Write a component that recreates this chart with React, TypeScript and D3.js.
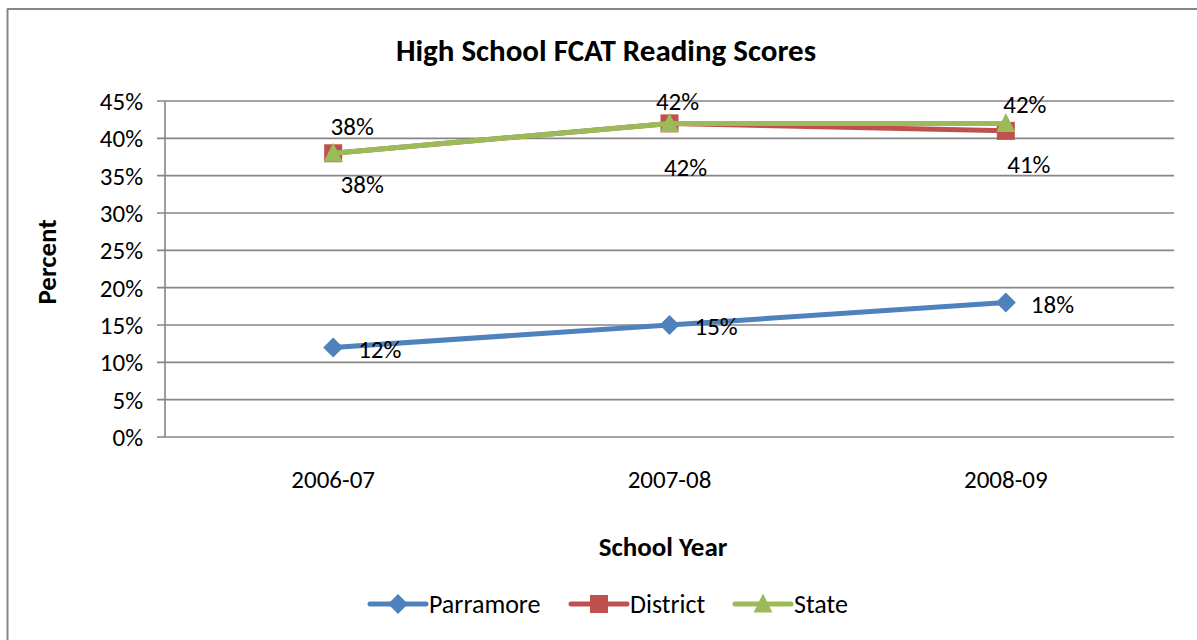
import React from "react";
import * as d3 from "d3";

const categories = ["2006-07", "2007-08", "2008-09"];
const parramore = [12, 15, 18];
const district = [38, 42, 41];
const state = [38, 42, 42];
const yTicks = [0, 5, 10, 15, 20, 25, 30, 35, 40, 45];
const seriesNames = ["Parramore", "District", "State"];

const W = 1197;
const H = 640;
const FONT = "Carlito, Calibri, Lato, 'Liberation Sans', sans-serif";
const GRID = "#868686";
const COLORS = ["#4F81BD", "#C0504D", "#9BBB59"];

const plot = { left: 165, right: 1174, top: 101, bottom: 437 };

// per-point label placement (offsets from the point, in px)
const LABEL_DX = [
  [25, 25, 25],
  [29, 16, 23],
  [19, 8, 19],
];
const LABEL_DY = [
  [2, 1, 1],
  [31, 44, 33],
  [-27, -22, -19],
];

function Marker({ kind, x, y, color }: { kind: string; x: number; y: number; color: string }) {
  if (kind === "diamond") {
    const r = 10;
    return <path d={`M${x},${y - r}L${x + r},${y}L${x},${y + r}L${x - r},${y}Z`} fill={color} />;
  }
  if (kind === "square") {
    const s = 18;
    return <rect x={x - s / 2} y={y - s / 2} width={s} height={s} fill={color} />;
  }
  const s = 19;
  return <path d={`M${x},${y - s * 0.55}L${x + s / 2},${y + s * 0.45}L${x - s / 2},${y + s * 0.45}Z`} fill={color} />;
}

export default function App() {
  const x = d3.scaleBand<string>().domain(categories).range([plot.left, plot.right]);
  const y = d3.scaleLinear().domain([0, 45]).range([plot.bottom, plot.top]);
  const cx = (c: string) => (x(c) as number) + x.bandwidth() / 2;
  const line = d3
    .line<number>()
    .x((_, i) => cx(categories[i]))
    .y((d) => y(d));

  const series = [
    { name: seriesNames[0], values: parramore, color: COLORS[0], marker: "diamond", anchor: "start" },
    { name: seriesNames[1], values: district, color: COLORS[1], marker: "square", anchor: "middle" },
    { name: seriesNames[2], values: state, color: COLORS[2], marker: "triangle", anchor: "middle" },
  ];

  const legendX = [370, 571, 735];
  const fs = 25;

  return (
    <svg
      width={W}
      height={H}
      style={{ position: "absolute", left: 0, top: 0, background: "#fff" }}
      fontFamily={FONT}
    >
      <rect x={0} y={0} width={W} height={H} fill="#fff" />
      {/* outer border */}
      <line x1={7.5} y1={9} x2={7.5} y2={H} stroke={GRID} strokeWidth={2} />
      <line x1={7} y1={9} x2={W} y2={9} stroke={GRID} strokeWidth={2} />

      <text x={606} y={61} textAnchor="middle" fontSize={31} fontWeight="bold" fill="#000">
        High School FCAT Reading Scores
      </text>

      {/* gridlines and y axis */}
      {yTicks.map((t) => (
        <g key={t}>
          <line x1={plot.left - 8} x2={plot.right} y1={y(t)} y2={y(t)} stroke={GRID} strokeWidth={1.6} />
          <text x={143} y={y(t) + 9} textAnchor="end" fontSize={fs} fill="#000">
            {t}%
          </text>
        </g>
      ))}
      <line x1={plot.left} x2={plot.left} y1={plot.top} y2={plot.bottom} stroke={GRID} strokeWidth={1.6} />

      {categories.map((c) => (
        <text key={c} x={cx(c)} y={488} textAnchor="middle" fontSize={fs} fill="#000">
          {c}
        </text>
      ))}

      <text
        transform={`translate(56,${(plot.top + plot.bottom) / 2 - 7}) rotate(-90)`}
        textAnchor="middle"
        fontSize={27}
        fontWeight="bold"
        fill="#000"
      >
        Percent
      </text>
      <text x={663} y={556} textAnchor="middle" fontSize={27} fontWeight="bold" fill="#000">
        School Year
      </text>

      {/* series */}
      {series.map((s) => (
        <g key={s.name}>
          <path d={line(s.values) || ""} fill="none" stroke={s.color} strokeWidth={5} strokeLinejoin="round" />
          {s.values.map((v, i) => (
            <Marker key={i} kind={s.marker} x={cx(categories[i])} y={y(v)} color={s.color} />
          ))}
        </g>
      ))}
      {series.map((s, si) => (
        <g key={s.name + "-labels"}>
          {s.values.map((v, i) => (
            <text
              key={i}
              x={cx(categories[i]) + LABEL_DX[si][i]}
              y={y(v) + LABEL_DY[si][i] + 9}
              textAnchor={s.anchor as any}
              fontSize={fs}
              fill="#000"
            >
              {v}%
            </text>
          ))}
        </g>
      ))}

      {/* legend */}
      {series.map((s, i) => (
        <g key={s.name + "-legend"}>
          <line x1={legendX[i]} x2={legendX[i] + 56} y1={604} y2={604} stroke={s.color} strokeWidth={5} strokeLinecap="round" />
          <Marker kind={s.marker} x={legendX[i] + 28} y={604} color={s.color} />
          <text x={legendX[i] + 59} y={613} fontSize={26} fill="#000">
            {s.name}
          </text>
        </g>
      ))}
    </svg>
  );
}
